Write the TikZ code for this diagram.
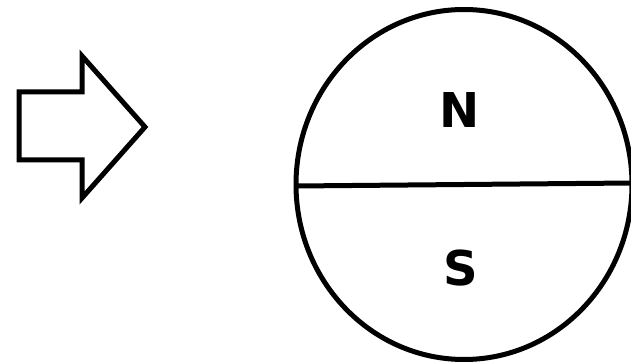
\documentclass[tikz,border=0pt]{standalone}
\usepackage{fontspec}
\setmainfont{DejaVu Sans}
\begin{document}
\begin{tikzpicture}[x=1pt,y=-1pt,
  outline/.style={draw=black, line width=5pt},
  pole/.style={font=\fontsize{48}{48}\selectfont\bfseries, inner sep=0pt, anchor=center}]
\useasboundingbox (0,0) rectangle (631,363);
\fill[white] (0,0) rectangle (631,363);
% block arrow
\draw[outline, line join=miter] (19,92) -- (82,92) -- (82,56) -- (145,127) -- (82,198) -- (82,160) -- (19,160) -- cycle;
% magnet
\draw[outline] (464,184.5) ellipse [x radius=168, y radius=175];
\coordinate (l) at (296,186);
\coordinate (r) at (632,183);
\draw[outline] (l) -- (r);
\node[pole] (n) at (460,110) {N};
\node[pole] (s) at (461,268) {S};
\end{tikzpicture}
\end{document}
